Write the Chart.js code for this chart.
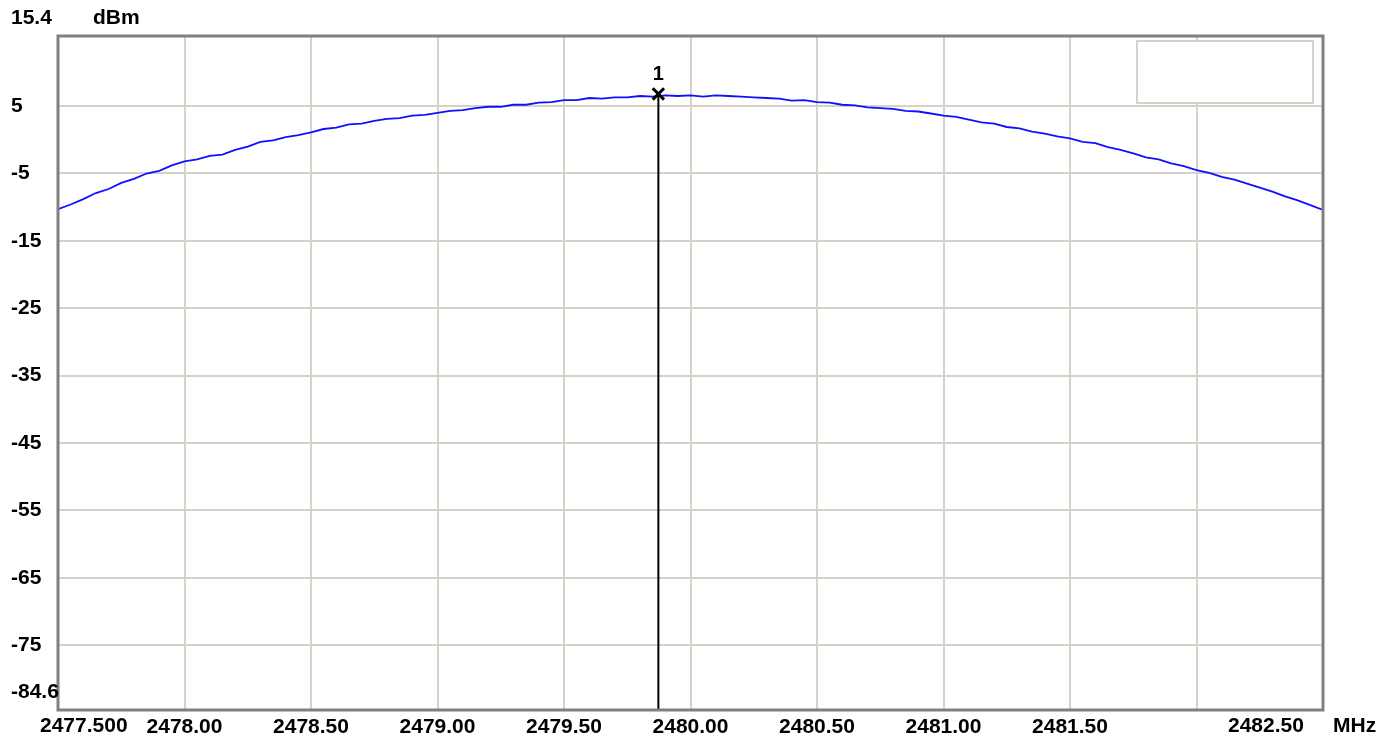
<!DOCTYPE html>
<html>
<head>
<meta charset="utf-8">
<title>Spectrum trace</title>
<script src="https://cdn.jsdelivr.net/npm/chart.js@4.4.0/dist/chart.umd.min.js"></script>
<style>
    html, body { margin: 0; padding: 0; background: #fff; }
    #wrap { width: 1383px; height: 742px; position: relative; }
</style>
</head>
<body>
<div id="wrap"><canvas id="spectrumChart"></canvas></div>
<script>
const freqStart = 2477.5;
const freqStop = 2482.5;
const freqStep = 0.05;

const traceLevels = [
    -10.3, -9.6, -8.8, -7.9, -7.3, -6.4, -5.8, -5.0, -4.6, -3.8,
    -3.2, -2.9, -2.4, -2.2, -1.5, -1.0, -0.3, -0.1, 0.4, 0.7,
    1.1, 1.6, 1.8, 2.3, 2.4, 2.8, 3.1, 3.2, 3.6, 3.7,
    4.0, 4.3, 4.4, 4.7, 4.9, 4.9, 5.2, 5.2, 5.5, 5.6,
    5.9, 5.9, 6.2, 6.1, 6.3, 6.3, 6.5, 6.4, 6.6, 6.5,
    6.6, 6.4, 6.6, 6.5, 6.4, 6.3, 6.2, 6.1, 5.8, 5.9,
    5.6, 5.5, 5.2, 5.1, 4.8, 4.7, 4.6, 4.3, 4.2, 3.9,
    3.6, 3.4, 3.0, 2.6, 2.4, 1.9, 1.7, 1.2, 0.9, 0.5,
    0.2, -0.3, -0.5, -1.1, -1.5, -2.0, -2.6, -2.9, -3.5, -3.9,
    -4.5, -4.9, -5.5, -5.9, -6.5, -7.1, -7.7, -8.4, -9.0, -9.7,
    -10.4
];

// Marker 1
const markerFreq = [2479.873];
const markerLevel = [6.8];

// Axes
const refLevel = 15.4;
const bottomLevel = -84.6;
const yGridLevels = [5, -5, -15, -25, -35, -45, -55, -65, -75];
const yTickLabels = ['5', '-5', '-15', '-25', '-35', '-45', '-55', '-65', '-75'];
const xGridFreqs = [2478.0, 2478.5, 2479.0, 2479.5, 2480.0, 2480.5, 2481.0, 2481.5, 2482.0];
const xTickLabels = ['2478.00', '2478.50', '2479.00', '2479.50', '2480.00', '2480.50', '2481.00', '2481.50', ''];

const labelFont = 'bold 21px "Liberation Sans", Arial, sans-serif';
const gridColor = '#d6d2ca';

// Frame, legend box, marker line and corner texts
const analyzerDecor = {
    id: 'analyzerDecor',
    beforeDatasetsDraw(chart) {
        const ctx = chart.ctx;
        ctx.save();
        ctx.fillStyle = '#fff';
        ctx.fillRect(1137, 41, 176, 62);
        ctx.strokeStyle = gridColor;
        ctx.lineWidth = 2;
        ctx.strokeRect(1137, 41, 176, 62);
        ctx.restore();
    },
    afterDatasetsDraw(chart) {
        const { ctx, chartArea: a, scales } = chart;
        const mx = scales.x.getPixelForValue(markerFreq[0]);
        const my = scales.y.getPixelForValue(markerLevel[0]);
        ctx.save();

        // marker line
        ctx.strokeStyle = '#000';
        ctx.lineWidth = 2;
        ctx.beginPath();
        ctx.moveTo(mx, my);
        ctx.lineTo(mx, a.bottom);
        ctx.stroke();

        // frame
        ctx.strokeStyle = '#808080';
        ctx.lineWidth = 3;
        ctx.strokeRect(a.left, a.top, a.right - a.left, a.bottom - a.top);

        // texts
        ctx.fillStyle = '#000';
        ctx.font = labelFont;
        ctx.textBaseline = 'middle';
        ctx.textAlign = 'left';
        ctx.fillText(String(refLevel), 11, 18);
        ctx.fillText('dBm', 93, 18);
        ctx.fillText(String(bottomLevel), 11, 692);
        ctx.fillText('2477.500', 40, 726);
        ctx.fillText('2482.50', 1228, 726);
        ctx.fillText('MHz', 1333, 726);

        ctx.textAlign = 'center';
        ctx.font = 'bold 20px "Liberation Sans", Arial, sans-serif';
        ctx.fillText('1', mx, my - 19);
        ctx.restore();
    }
};

document.addEventListener('DOMContentLoaded', function() {
    const ctx = document.getElementById('spectrumChart').getContext('2d');

    const tracePoints = traceLevels.map((v, i) => ({ x: freqStart + i * freqStep, y: v }));

    new Chart(ctx, {
        type: 'line',
        data: {
            datasets: [
                {
                    type: 'scatter',
                    data: [{ x: markerFreq[0], y: markerLevel[0] }],
                    pointStyle: 'crossRot',
                    pointRadius: 8,
                    borderColor: '#000',
                    borderWidth: 3
                },
                {
                    data: tracePoints,
                    borderColor: '#1010ff',
                    borderWidth: 1.8,
                    pointRadius: 0,
                    tension: 0,
                    fill: false
                }
            ]
        },
        options: {
            responsive: true,
            maintainAspectRatio: false,
            animation: false,
            layout: { padding: { left: 11, top: 36, right: 60, bottom: 0 } },
            plugins: {
                legend: { display: false },
                tooltip: { enabled: false }
            },
            scales: {
                x: {
                    type: 'linear',
                    min: freqStart,
                    max: freqStop,
                    afterBuildTicks: s => { s.ticks = xGridFreqs.map(v => ({ value: v })); },
                    afterFit: s => { s.height = 32; },
                    grid: { color: gridColor, lineWidth: 2, drawTicks: false },
                    border: { display: false },
                    ticks: {
                        autoSkip: false,
                        maxRotation: 0,
                        padding: 5,
                        color: '#000',
                        font: { family: '"Liberation Sans", Arial, sans-serif', size: 21, weight: 'bold' },
                        callback: (value, index) => xTickLabels[index]
                    }
                },
                y: {
                    type: 'linear',
                    min: bottomLevel,
                    max: refLevel,
                    afterBuildTicks: s => { s.ticks = yGridLevels.map(v => ({ value: v })); },
                    afterFit: s => { s.width = 47; },
                    grid: { color: gridColor, lineWidth: 2, drawTicks: false },
                    border: { display: false },
                    ticks: {
                        crossAlign: 'far',
                        padding: 0,
                        color: '#000',
                        font: { family: '"Liberation Sans", Arial, sans-serif', size: 21, weight: 'bold' },
                        callback: (value, index) => yTickLabels[index]
                    }
                }
            }
        },
        plugins: [analyzerDecor]
    });
});
</script>
</body>
</html>
